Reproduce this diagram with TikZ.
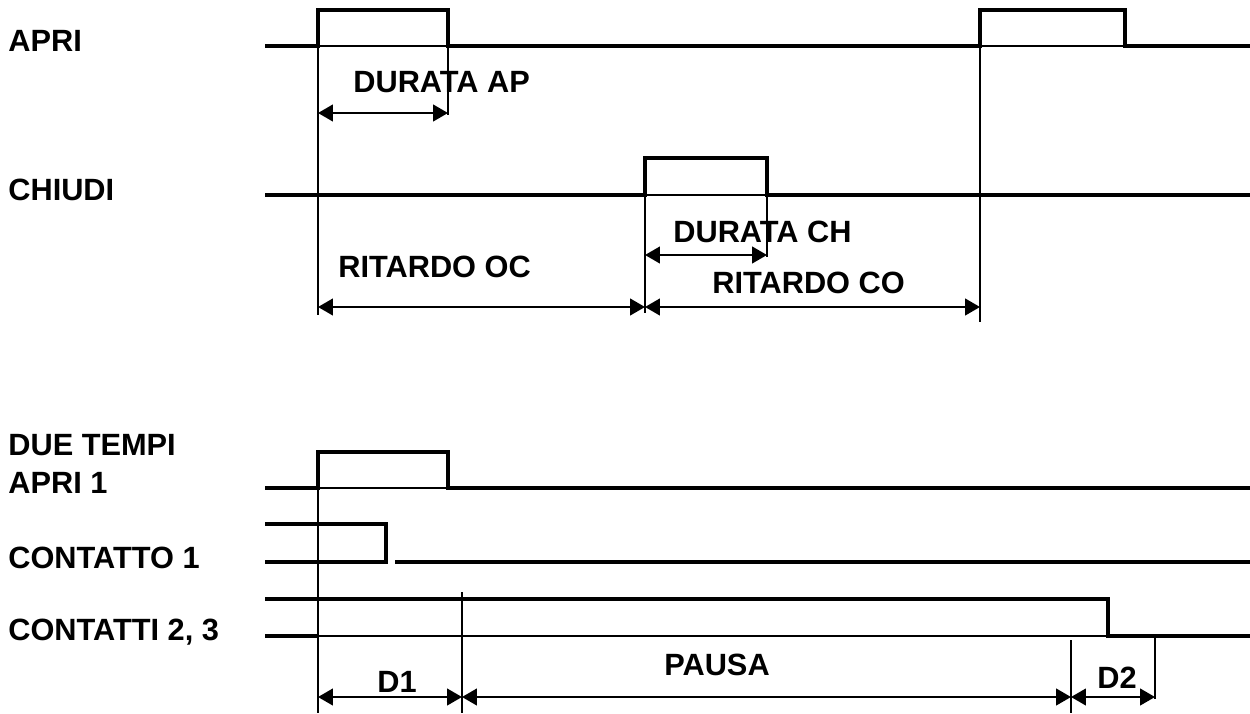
\documentclass[tikz,border=0pt]{standalone}
\usepackage{fontspec}
\setmainfont{Liberation Sans}
\usetikzlibrary{arrows.meta}
\tikzset{
    sig/.style={line width=1.8pt, line join=miter},  % segnale
    base/.style={line width=0.9pt},                  % linea sottile
    ext/.style={line width=0.9pt},                   % linee di riferimento
    dim/.style={line width=1.2pt, {Triangle[length=8.5pt,width=9.5pt]}-{Triangle[length=8.5pt,width=9.5pt]}},
    lbl/.style={anchor=base west, inner sep=0pt, font=\fontsize{17.5pt}{20pt}\selectfont\bfseries}
}

\begin{document}
\begin{tikzpicture}[x=0.02cm,y=-0.02cm]
	\useasboundingbox (0,0) rectangle (1250,713);

	% etichette dei segnali
	\node (apri) [lbl] at (8,52) {APRI};
	\node (chiudi) [lbl] at (8,200) {CHIUDI};
	\node (due) [lbl] at (8,455) {DUE TEMPI};
	\node (apri1) [lbl] at (8,493) {APRI 1};
	\node (cont1) [lbl] at (8,568) {CONTATTO 1};
	\node (cont23) [lbl] at (8,640) {CONTATTI 2, 3};

	% APRI
	\draw[sig] (265,46) -- (318,46) -- (318,10) -- (448,10) -- (448,46) -- (980,46)
	           -- (980,10) -- (1125,10) -- (1125,46) -- (1250,46);
	\draw[base] (318,46) -- (448,46);
	\draw[base] (980,46) -- (1125,46);

	% CHIUDI
	\draw[sig] (265,195) -- (645,195) -- (645,158) -- (767,158) -- (767,195) -- (1250,195);
	\draw[base] (645,195) -- (767,195);

	% linee di riferimento
	\coordinate (a0) at (318,307);
	\coordinate (a1) at (448,113);
	\coordinate (a0s) at (318,113);
	\coordinate (c0) at (645,307);
	\coordinate (c0s) at (645,255);
	\coordinate (c1) at (767,255);
	\coordinate (r1) at (980,307);
	\draw[ext] (318,10) -- (318,315);
	\draw[ext] (448,46) -- (448,115);
	\draw[ext] (645,158) -- (645,313);
	\draw[ext] (767,195) -- (767,257);
	\draw[ext] (980,10) -- (980,322);

	\draw[dim] (a0s) -- (a1);
	\draw[dim] (c0s) -- (c1);
	\draw[dim] (a0) -- (c0);
	\draw[dim] (c0) -- (r1);

	\node (durap) [lbl] at (353,92) {DURATA AP};
	\node (durch) [lbl] at (673,242) {DURATA CH};
	\node (ritoc) [lbl] at (338,277) {RITARDO OC};
	\node (ritco) [lbl] at (712,293) {RITARDO CO};

	% DUE TEMPI
	\draw[sig] (265,488) -- (318,488) -- (318,452) -- (448,452) -- (448,488) -- (1250,488);
	\draw[base] (318,488) -- (448,488);

	\draw[sig] (265,524) -- (386,524) -- (386,562) -- (265,562);
	\draw[sig] (395,562) -- (1250,562);

	\draw[sig] (265,599) -- (1108,599) -- (1108,636) -- (1250,636);
	\draw[sig] (265,636) -- (318,636);
	\draw[base] (318,636) -- (1108,636);

	% quote in basso
	\coordinate (d0) at (318,697);
	\coordinate (d1) at (462,697);
	\coordinate (p1) at (1071,697);
	\coordinate (d2) at (1155,697);
	\draw[ext] (318,452) -- (318,713);
	\draw[ext] (462,592) -- (462,713);
	\draw[ext] (1071,640) -- (1071,713);
	\draw[ext] (1155,636) -- (1155,699);

	\draw[dim] (d0) -- (d1);
	\draw[dim] (d1) -- (p1);
	\draw[dim] (p1) -- (d2);

	\node (dd1) [lbl] at (377,692) {D1};
	\node (pausa) [lbl] at (664,675) {PAUSA};
	\node (dd2) [lbl] at (1097,688) {D2};
\end{tikzpicture}
\end{document}
